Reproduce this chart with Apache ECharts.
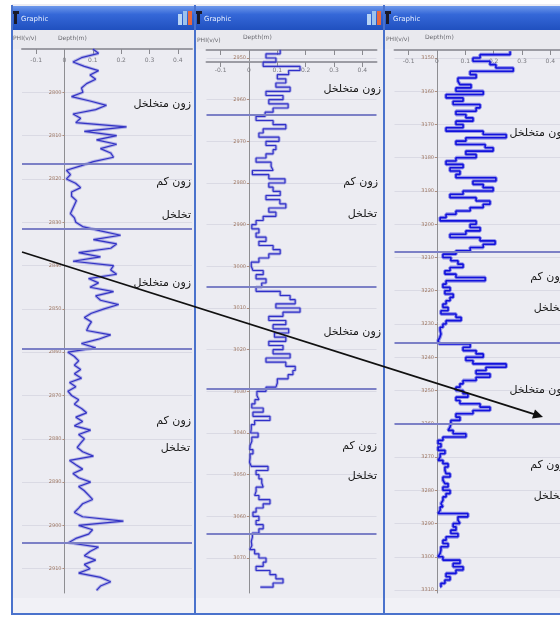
<!DOCTYPE html>
<html>
<head>
<meta charset="utf-8">
<script src="https://cdn.jsdelivr.net/npm/echarts@6/dist/echarts.min.js"></script>
<style>
  html, body { margin: 0; padding: 0; background: #ffffff; }
  #chart { width: 560px; height: 619px; }
</style>
</head>
<body>
<div id="chart"></div>
<script>
// Porosity logs (PHI, v/v) of three wells, one sample per metre of depth.
const depthTop1 = 2790;
const phiWell1 = [
  0.10, 0.12, 0.06, 0.03, 0.07, 0.12, 0.09, 0.11, 0.078, 0.06,
  0.065, 0.025, 0.09, 0.148, 0.11, 0.03, 0.057, 0.04, 0.219, 0.07,
  0.184, 0.113, 0.184, 0.127, 0.163, 0.173, 0.102, 0.057, 0.007, 0.021,
  0.007, 0.039, 0.057, 0.025, 0.025, 0.042, 0.035, 0.028, 0.021, 0.035,
  0.04, 0.064, 0.127, 0.198, 0.102, 0.184, 0.163, 0.05, 0.127, 0.03,
  0.173, 0.163, 0.184, 0.085, 0.12, 0.09, 0.173, 0.11, 0.127, 0.191,
  0.14, 0.095, 0.07, 0.095, 0.085, 0.078, 0.163, 0.12, 0.06, 0.11,
  0.012, 0.035, 0.05, 0.035, 0.057, 0.035, 0.06, 0.018, 0.04, 0.012,
  0.025, 0.05, 0.035, 0.06, 0.078, 0.04, 0.064, 0.035, 0.092, 0.05,
  0.07, 0.057, 0.045, 0.064, 0.102, 0.018, 0.04, 0.064, 0.03, 0.05,
  0.092, 0.05, 0.07, 0.085, 0.099, 0.064, 0.05, 0.035, 0.064, 0.208,
  0.05, 0.099, 0.085, 0.04, 0.014, 0.12, 0.09, 0.07, 0.11, 0.07,
  0.09, 0.05, 0.127, 0.163, 0.127, 0.113
];

const depthTop2 = 2948;
const phiWell2 = [
  0.11, 0.06, 0.095, 0.05, 0.18, 0.14, 0.10, 0.13, 0.095, 0.145,
  0.06, 0.12, 0.07, 0.138, 0.085, 0.057, 0.025, 0.085, 0.13, 0.05,
  0.035, 0.106, 0.06, 0.095, 0.085, 0.06, 0.025, 0.078, 0.085, 0.012,
  0.07, 0.127, 0.07, 0.085, 0.11, 0.06, 0.109, 0.13, 0.07, 0.095,
  0.05, 0.025, 0.01, 0.035, 0.025, 0.06, 0.035, 0.085, 0.11, 0.07,
  0.035, 0.008, 0.014, 0.05, 0.025, 0.06, 0.045, 0.025, 0.11, 0.145,
  0.163, 0.095, 0.18, 0.12, 0.07, 0.13, 0.085, 0.14, 0.09, 0.13,
  0.07, 0.12, 0.085, 0.145, 0.06, 0.13, 0.163, 0.155, 0.138, 0.10,
  0.095, 0.06, 0.028, 0.035, 0.021, 0.01, 0.05, 0.014, 0.074, 0.02,
  0.008, 0.006, 0.032, 0.01, 0.004, 0.003, 0.014, 0.004, 0.002, 0.008,
  0.067, 0.025, 0.035, 0.045, 0.05, 0.025, 0.02, 0.035, 0.074, 0.05,
  0.025, 0.014, 0.035, 0.025, 0.05, 0.035, 0.012, 0.008, 0.01, 0.003,
  0.02, 0.035, 0.06, 0.05, 0.025, 0.074, 0.095, 0.12, 0.085, 0.04
];

const depthTop3 = 3148;
const phiWell3 = [
  0.258, 0.152, 0.127, 0.187, 0.208, 0.269, 0.117, 0.138, 0.074, 0.081,
  0.12, 0.067, 0.163, 0.032, 0.092, 0.057, 0.152, 0.138, 0.067, 0.102,
  0.127, 0.067, 0.092, 0.032, 0.163, 0.244, 0.102, 0.067, 0.17, 0.198,
  0.102, 0.138, 0.067, 0.032, 0.092, 0.046, 0.081, 0.067, 0.208, 0.127,
  0.163, 0.198, 0.092, 0.046, 0.138, 0.187, 0.163, 0.117, 0.067, 0.032,
  0.011, 0.138, 0.117, 0.152, 0.102, 0.046, 0.152, 0.205, 0.163, 0.117,
  0.067, 0.021, 0.049, 0.074, 0.092, 0.046, 0.028, 0.067, 0.17, 0.032,
  0.021, 0.046, 0.028, 0.057, 0.046, 0.032, 0.021, 0.039, 0.014, 0.067,
  0.085, 0.032, 0.021, 0.011, 0.014, 0.01, 0.004, 0.008, 0.117, 0.092,
  0.138, 0.163, 0.102, 0.127, 0.244, 0.173, 0.138, 0.187, 0.138, 0.092,
  0.081, 0.067, 0.092, 0.109, 0.067, 0.081, 0.152, 0.187, 0.127, 0.067,
  0.081, 0.049, 0.046, 0.039, 0.057, 0.102, 0.021, 0.004, 0.014, 0.004,
  0.028, 0.011, 0.004, 0.021, 0.039, 0.028, 0.032, 0.046, 0.021, 0.028,
  0.039, 0.021, 0.046, 0.032, 0.021, 0.014, 0.021, 0.011, 0.004, 0.109,
  0.074, 0.081, 0.057, 0.067, 0.049, 0.074, 0.032, 0.021, 0.039, 0.014,
  0.011, 0.004, 0.021, 0.081, 0.057, 0.092, 0.067, 0.032, 0.046, 0.028,
  0.014, 0.011
];

// Axis ticks
const phiTicks = [-0.1, 0, 0.1, 0.2, 0.3, 0.4];
const depthTicks1 = [2800, 2810, 2820, 2830, 2840, 2850, 2860, 2870, 2880, 2890, 2900, 2910];
const depthTicks2 = [2950, 2960, 2970, 2980, 2990, 3000, 3010, 3020, 3030, 3040, 3050, 3060, 3070];
const depthTicks3 = [3150, 3160, 3170, 3180, 3190, 3200, 3210, 3220, 3230, 3240, 3250, 3260, 3270, 3280, 3290, 3300, 3310];

// Zone boundaries (m)
const zoneTops1 = [2816.6, 2831.4, 2859.1, 2903.9];
const zoneTops2 = [2963.7, 3005.0, 3029.4, 3064.2];
const zoneTops3 = [3208.3, 3235.7, 3260.1];

// Zone names
const ZONE_POROUS = 'زون متخلخل';
const ZONE_LOW_1 = 'زون کم';
const ZONE_LOW_2 = 'تخلخل';

const FA_FONT = '"DejaVu Sans", "Noto Sans", sans-serif';
const PHI_MIN = -0.15, PHI_MAX = 0.45;

const panels = [
  { win: [12, 195], grid: { left: 22, top: 49, width: 170, height: 544 }, yRange: [2790, 2915.6],
    data: phiWell1, top: depthTop1, ticks: depthTicks1, zones: zoneTops1, step: false,
    line: '#3434c4', lineWidth: 1.2, halo: 'rgba(110,110,215,0.45)', haloWidth: 3.2,
    phiLabel: [13, 38], depthLabel: [58, 38],
    labels: [[191, 104, ZONE_POROUS], [191, 182, ZONE_LOW_1], [191, 215, ZONE_LOW_2],
             [191, 283, ZONE_POROUS], [191, 421, ZONE_LOW_1], [190, 448, ZONE_LOW_2]] },
  { win: [195, 384], grid: { left: 206.5, top: 50, width: 170, height: 543 }, yRange: [2948.08, 3078.4],
    data: phiWell2, top: depthTop2, ticks: depthTicks2, zones: zoneTops2, doubleHeader: true, step: 'start',
    line: '#3030c8', lineWidth: 1.2, halo: 'rgba(110,110,215,0.45)', haloWidth: 3.2,
    phiLabel: [197, 40], depthLabel: [243, 37],
    labels: [[381, 89, ZONE_POROUS], [378, 182, ZONE_LOW_1], [377, 214, ZONE_LOW_2],
             [381, 332, ZONE_POROUS], [377, 446, ZONE_LOW_1], [377, 476, ZONE_LOW_2]] },
  { win: [384, 600], grid: { left: 394.5, top: 50, width: 170, height: 543 }, yRange: [3147.6, 3310.9],
    data: phiWell3, top: depthTop3, ticks: depthTicks3, zones: zoneTops3, step: 'start',
    line: '#1212dc', lineWidth: 1.6, halo: 'rgba(80,80,225,0.55)', haloWidth: 3.8,
    phiLabel: [386, 39], depthLabel: [425, 37],
    labels: [[567, 133, ZONE_POROUS], [565, 277, ZONE_LOW_1], [563, 308, ZONE_LOW_2],
             [567, 390, ZONE_POROUS], [565, 465, ZONE_LOW_1], [563, 496, ZONE_LOW_2]] }
];

const grids = [], xAxes = [], yAxes = [], series = [], graphics = [];

function xAxisBase(gi, showLabel) {
  return {
    gridIndex: gi, type: 'value', position: 'top', min: PHI_MIN, max: PHI_MAX,
    axisLine: { show: true, onZero: false, lineStyle: { color: '#9c9ca4', width: 2 } },
    axisTick: { show: true, inside: true, length: 5, customValues: phiTicks, lineStyle: { color: '#8a8a90' } },
    axisLabel: { show: showLabel, inside: true, customValues: phiTicks, fontSize: 6, color: '#7a7a80', margin: 8,
                 fontFamily: 'DejaVu Sans' },
    splitLine: { show: false }
  };
}

panels.forEach((p, gi) => {
  grids.push(Object.assign({ containLabel: false, outerBoundsMode: 'none' }, p.grid));

  const xi = xAxes.length;
  xAxes.push(xAxisBase(gi, !p.doubleHeader));
  if (p.doubleHeader) {
    const second = xAxisBase(gi, true);
    second.offset = -12;
    second.axisLabel.margin = 5;
    xAxes.push(second);
  }

  // depth labels sit just left of the PHI = 0 line
  const zeroOffset = p.grid.width * (0 - PHI_MIN) / (PHI_MAX - PHI_MIN);
  yAxes.push({
    gridIndex: gi, type: 'value', inverse: true, min: p.yRange[0], max: p.yRange[1],
    axisLine: { show: true, onZero: true, onZeroAxisIndex: xi, lineStyle: { color: '#8e8e92', width: 1 } },
    axisTick: { show: true, length: 2, customValues: p.ticks, lineStyle: { color: '#b09080' } },
    axisLabel: { customValues: p.ticks, fontSize: 5, color: '#a07a66', margin: 3 - zeroOffset,
                 fontFamily: 'DejaVu Sans', formatter: v => String(v) },
    splitLine: { show: true, lineStyle: { color: '#dadae4', width: 1 } }
  });

  const pts = p.data.map((v, i) => [v, p.top + i]);
  series.push({
    type: 'line', xAxisIndex: xi, yAxisIndex: gi, data: pts, symbol: 'none', silent: true, z: 2,
    step: p.step,
    lineStyle: { color: p.halo, width: p.haloWidth },
    markLine: {
      symbol: 'none', silent: true, animation: false, label: { show: false },
      lineStyle: { color: '#7c80c6', width: 2, type: 'solid' },
      data: p.zones.map(d => ({ yAxis: d }))
    }
  });
  series.push({
    type: 'line', xAxisIndex: xi, yAxisIndex: gi, data: pts, symbol: 'none', silent: true, z: 3,
    step: p.step,
    lineStyle: { color: p.line, width: p.lineWidth }
  });

  // window chrome
  const x0 = p.win[0], x1 = p.win[1], w = x1 - x0;
  graphics.push({ type: 'rect', z: -20, silent: true, shape: { x: x0, y: 4, width: w, height: 611 }, style: { fill: '#ececf2' } });
  graphics.push({ type: 'rect', z: -19, silent: true, shape: { x: x0, y: 30, width: w, height: 19 }, style: { fill: '#e9e9ee' } });
  graphics.push({ type: 'rect', z: -19, silent: true, shape: { x: x0, y: 598, width: w, height: 15 }, style: { fill: '#f1f1f6' } });
  graphics.push({ type: 'rect', z: -18, silent: true, shape: { x: x0, y: 6, width: w, height: 24 },
    style: { fill: { type: 'linear', x: 0, y: 0, x2: 0, y2: 1,
      colorStops: [{ offset: 0, color: '#6e98ea' }, { offset: 0.35, color: '#3568d8' }, { offset: 1, color: '#2050bf' }] } } });
  graphics.push({ type: 'rect', z: 50, silent: true, shape: { x: x0 + 2, y: 12, width: 3, height: 12 }, style: { fill: '#1a1a2a' } });
  graphics.push({ type: 'rect', z: 50, silent: true, shape: { x: x0 + 1, y: 11, width: 6, height: 3 }, style: { fill: '#1a1a2a' } });
  graphics.push({ type: 'text', z: 50, silent: true,
    style: { text: 'Graphic', x: x0 + 9, y: 19, fill: '#e8f0ff', fontSize: 7, fontFamily: 'DejaVu Sans',
             verticalAlign: 'middle', textVerticalAlign: 'middle' } });
  if (x1 < 560) {
    graphics.push({ type: 'rect', z: 50, silent: true, shape: { x: x1 - 17, y: 14, width: 4, height: 11 }, style: { fill: '#b8d4f4' } });
    graphics.push({ type: 'rect', z: 50, silent: true, shape: { x: x1 - 12, y: 11, width: 4, height: 14 }, style: { fill: '#9cc2ee' } });
    graphics.push({ type: 'rect', z: 50, silent: true, shape: { x: x1 - 7, y: 11, width: 4, height: 14 }, style: { fill: '#e8683e' } });
  }
  graphics.push({ type: 'line', z: 60, silent: true, shape: { x1: x0, y1: 5, x2: x0, y2: 615 }, style: { stroke: '#4a72cc', lineWidth: 2 } });
  graphics.push({ type: 'line', z: 60, silent: true, shape: { x1: x0, y1: 614, x2: x1, y2: 614 }, style: { stroke: '#4a72cc', lineWidth: 2 } });
  graphics.push({ type: 'text', z: 50, silent: true,
    style: { text: 'PHI(v/v)', x: p.phiLabel[0], y: p.phiLabel[1], fill: '#6a6a70', fontSize: 6, fontFamily: 'DejaVu Sans',
             verticalAlign: 'middle', textVerticalAlign: 'middle' } });
  graphics.push({ type: 'text', z: 50, silent: true,
    style: { text: 'Depth(m)', x: p.depthLabel[0], y: p.depthLabel[1], fill: '#6a6a70', fontSize: 6, fontFamily: 'DejaVu Sans',
             verticalAlign: 'middle', textVerticalAlign: 'middle' } });

  p.labels.forEach(l => {
    graphics.push({ type: 'text', z: 70, silent: true,
      style: { text: l[2], x: l[0], y: l[1], fill: '#151515', fontSize: 11, fontFamily: FA_FONT,
               align: 'right', textAlign: 'right', verticalAlign: 'middle', textVerticalAlign: 'middle' } });
  });
});

// correlation arrow across the three wells
const arrowFrom = [22, 252], arrowTip = [543, 417];
graphics.push({ type: 'line', z: 80, silent: true,
  shape: { x1: arrowFrom[0], y1: arrowFrom[1], x2: arrowTip[0] - 9, y2: arrowTip[1] - 2.9 },
  style: { stroke: '#111111', lineWidth: 1.8 } });
graphics.push({ type: 'polygon', z: 80, silent: true,
  shape: { points: [arrowTip, [532.0, 418.6], [535.0, 409.6]] },
  style: { fill: '#111111' } });

const chart = echarts.init(document.getElementById('chart'), null, { renderer: 'canvas' });
chart.setOption({
  animation: false,
  backgroundColor: '#ffffff',
  grid: grids,
  xAxis: xAxes,
  yAxis: yAxes,
  series: series,
  graphic: { elements: graphics }
});
</script>
</body>
</html>
